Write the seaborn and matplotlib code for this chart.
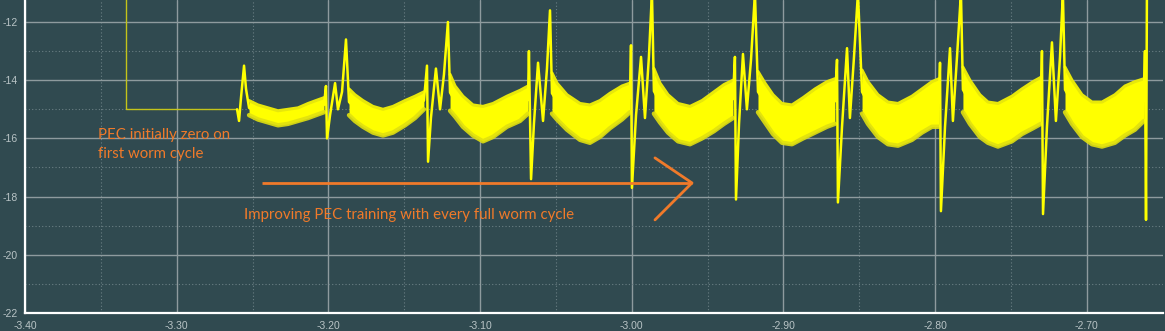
import matplotlib
matplotlib.use("Agg")
import matplotlib.pyplot as plt
import matplotlib.ticker as mticker
import numpy as np
import pandas as pd
import seaborn as sns

# ---------------- data ----------------
# initial flat part (PEC zero on first worm cycle)
init_x = [-3.3334, -3.3334, -3.2602]
init_y = [-11.0, -15.0, -15.0]

# noisy band envelope per worm cycle
band_x = [
    [-3.2523, -3.2464, -3.2398, -3.2332, -3.2266, -3.2200, -3.2134, -3.2082, -3.2029],
    [-3.1864, -3.1825, -3.1772, -3.1706, -3.1640, -3.1574, -3.1495, -3.1429, -3.1370],
    [-3.1198, -3.1165, -3.1113, -3.1047, -3.0981, -3.0915, -3.0823, -3.0737, -3.0684],
    [-3.0526, -3.0493, -3.0427, -3.0341, -3.0276, -3.0210, -3.0144, -3.0065, -3.0012],
    [-2.9854, -2.9814, -2.9761, -2.9695, -2.9616, -2.9537, -2.9458, -2.9392, -2.9333],
    [-2.9168, -2.9122, -2.9069, -2.9010, -2.8944, -2.8871, -2.8792, -2.8713, -2.8661],
    [-2.8482, -2.8443, -2.8377, -2.8311, -2.8245, -2.8153, -2.8087, -2.8021, -2.7975],
    [-2.7817, -2.7771, -2.7705, -2.7652, -2.7586, -2.7494, -2.7428, -2.7355, -2.7303],
    [-2.7144, -2.7098, -2.7032, -2.6966, -2.6900, -2.6815, -2.6749, -2.6683, -2.6624],
]
band_upper = [
    [-14.7, -14.85, -14.95, -15.05, -15.0, -14.95, -14.8, -14.7, -14.6],
    [-14.3, -14.5, -14.7, -14.9, -15.0, -14.9, -14.7, -14.55, -14.4],
    [-13.8, -14.2, -14.55, -14.85, -14.9, -14.8, -14.55, -14.35, -14.2],
    [-13.75, -14.1, -14.5, -14.8, -14.85, -14.7, -14.45, -14.2, -14.1],
    [-13.6, -14.1, -14.5, -14.8, -14.9, -14.7, -14.4, -14.15, -14.0],
    [-13.7, -14.1, -14.5, -14.8, -14.85, -14.6, -14.3, -14.05, -13.95],
    [-13.65, -14.05, -14.5, -14.75, -14.8, -14.55, -14.3, -14.05, -13.95],
    [-13.55, -14.0, -14.5, -14.75, -14.8, -14.55, -14.3, -14.05, -13.9],
    [-13.55, -14.0, -14.5, -14.75, -14.75, -14.5, -14.2, -14.05, -13.95],
]
band_lower = [
    [-15.2, -15.35, -15.45, -15.55, -15.5, -15.4, -15.3, -15.2, -15.1],
    [-15.2, -15.4, -15.6, -15.8, -15.9, -15.8, -15.55, -15.3, -15.0],
    [-15.05, -15.25, -15.6, -15.9, -16.1, -15.95, -15.6, -15.4, -15.15],
    [-15.15, -15.35, -15.7, -16.05, -16.15, -15.95, -15.65, -15.35, -15.1],
    [-15.15, -15.45, -15.8, -16.1, -16.2, -16.0, -15.75, -15.5, -15.3],
    [-15.1, -15.45, -15.85, -16.15, -16.2, -16.0, -15.8, -15.6, -15.5],
    [-15.15, -15.5, -15.95, -16.2, -16.25, -16.05, -15.8, -15.6, -15.6],
    [-15.1, -15.5, -15.95, -16.15, -16.28, -16.1, -15.85, -15.65, -15.5],
    [-15.1, -15.5, -15.95, -16.2, -16.28, -16.15, -15.9, -15.7, -15.4],
]

# spike groups between cycles
spike_x = [
    [-3.2602, -3.2589, -3.2576, -3.2556, -3.2543],
    [-3.2016, -3.2009, -3.1989, -3.1956, -3.1937, -3.1910, -3.1884],
    [-3.1350, -3.1343, -3.1324, -3.1291, -3.1264, -3.1238, -3.1212],
    [-3.0678, -3.0664, -3.0645, -3.0618, -3.0585, -3.0559, -3.0539],
    [-3.0005, -2.9999, -2.9972, -2.9939, -2.9913, -2.9887, -2.9867],
    [-2.9320, -2.9313, -2.9293, -2.9267, -2.9241, -2.9214, -2.9188],
    [-2.8647, -2.8641, -2.8614, -2.8581, -2.8562, -2.8535, -2.8509],
    [-2.7968, -2.7962, -2.7935, -2.7902, -2.7883, -2.7856, -2.7830],
    [-2.7296, -2.7289, -2.7263, -2.7230, -2.7204, -2.7177, -2.7158],
    [-2.6617, -2.6610, -2.6604],
]
spike_y = [
    [-15.0, -15.4, -14.6, -13.5, -14.3],
    [-14.2, -16.0, -15.2, -14.1, -15.0, -14.4, -12.6],
    [-13.5, -16.8, -15.3, -13.6, -15.0, -13.8, -12.0],
    [-13.0, -17.4, -15.5, -13.4, -15.4, -13.6, -11.6],
    [-12.8, -17.7, -15.2, -13.2, -15.3, -13.2, -11.0],
    [-13.2, -18.1, -15.5, -13.1, -15.0, -13.3, -11.0],
    [-13.3, -18.2, -15.6, -12.9, -15.3, -13.2, -11.0],
    [-13.4, -18.5, -15.6, -12.9, -15.4, -13.2, -11.0],
    [-13.0, -18.6, -15.6, -12.7, -15.4, -13.2, -11.0],
    [-13.0, -18.8, -11.0],
]

x_ticks = [-3.40, -3.30, -3.20, -3.10, -3.00, -2.90, -2.80, -2.70]
y_ticks = [-22, -20, -18, -16, -14, -12]

note1 = "PEC initially zero on\nfirst worm cycle"
note2 = "Improving PEC training with every full worm cycle"

# ---------------- build the trace ----------------
tx, ty = [], []
for k in range(len(spike_x)):
    tx += spike_x[k]
    ty += spike_y[k]
    if k < len(band_x):
        tx += band_x[k]
        ty += [(u + l) / 2 for u, l in zip(band_upper[k], band_lower[k])]
trace = pd.DataFrame({"t": tx, "v": ty})
init = pd.DataFrame({"t": init_x, "v": init_y})

# ---------------- style ----------------
BG = "#304a50"
sns.set_style("dark")
plt.rcParams["font.family"] = ["Liberation Sans", "DejaVu Sans"]

fig = plt.figure(figsize=(11.65, 3.31), dpi=100, facecolor=BG)
ax = fig.add_axes([25 / 1165, 18 / 331, 1138 / 1165, 313 / 331])
ax.set_facecolor(BG)

ax.set_xlim(-3.40, -2.6498)
ax.set_ylim(-22, -11.244)

ax.xaxis.set_major_locator(mticker.FixedLocator(x_ticks))
ax.xaxis.set_minor_locator(mticker.MultipleLocator(0.05))
ax.yaxis.set_major_locator(mticker.FixedLocator(y_ticks))
ax.yaxis.set_minor_locator(mticker.MultipleLocator(1))
ax.xaxis.set_major_formatter(mticker.FormatStrFormatter("%.2f"))
ax.yaxis.set_major_formatter(mticker.FormatStrFormatter("%d"))

ax.grid(which="major", color="#8e9b9e", lw=1.0, ls="-")
ax.grid(which="minor", color="#6a7f84", lw=0.8, ls=(0, (1, 2)))
ax.set_axisbelow(True)

for s in ["top", "right"]:
    ax.spines[s].set_visible(False)
for s in ["left", "bottom"]:
    ax.spines[s].set_color("white")
    ax.spines[s].set_linewidth(1.6)

ax.tick_params(which="both", colors="white", labelcolor="#b9c4c6",
               labelsize=7.5, direction="out")
ax.tick_params(which="major", length=4, width=1)
ax.tick_params(which="minor", length=2, width=1)
ax.tick_params(axis="x", pad=2)
ax.tick_params(axis="y", pad=1)

# ---------------- marks ----------------
sns.lineplot(data=init, x="t", y="v", sort=False, estimator=None,
             color="#c4c41a", lw=1.0, ax=ax)
for k in range(len(band_x)):
    ax.fill_between(band_x[k], band_lower[k], band_upper[k],
                    color="#ffff00", lw=0, zorder=3)
    ax.plot(band_x[k], band_upper[k], color="#e8e80a", lw=2.2, zorder=3,
            solid_joinstyle="round")
    ax.plot(band_x[k], band_lower[k], color="#e0e010", lw=3.2, zorder=3,
            alpha=0.9, solid_joinstyle="round")
sns.lineplot(data=trace, x="t", y="v", sort=False, estimator=None,
             color="#ffff00", lw=1.8, ax=ax, zorder=4)

ax.set_xlabel("")
ax.set_ylabel("")

# ---------------- annotations ----------------
ORANGE = "#f07a2a"
ax.text(-3.3519, -16.2, note1, color=ORANGE, fontsize=10.8,
        family=["Lato", "DejaVu Sans"], va="center", ha="left",
        linespacing=1.45, zorder=5)
ax.text(-3.2556, -18.62, note2, color=ORANGE, fontsize=10.8,
        family=["Lato", "DejaVu Sans"], va="center", ha="left", zorder=5)
ax.plot([-3.2438, -2.9603], [-17.53, -17.53], color=ORANGE, lw=2, zorder=5,
        solid_capstyle="butt")
ax.plot([-2.9847, -2.9603, -2.9847], [-16.67, -17.53, -18.80], color=ORANGE,
        lw=2, zorder=5)

fig.savefig("out.png", dpi=100, facecolor=BG)
